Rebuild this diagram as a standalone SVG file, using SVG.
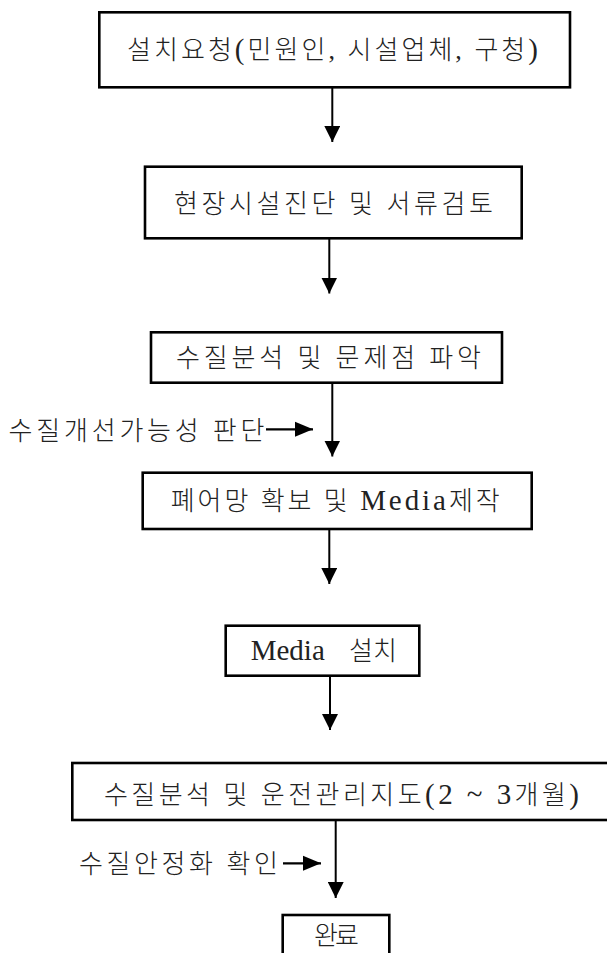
<svg xmlns="http://www.w3.org/2000/svg" width="607" height="953" viewBox="0 0 607 953">
<style>
.box{fill:#fff;stroke:#000;stroke-width:2.6}
.t{font-family:"Liberation Serif","Noto Sans CJK KR",serif;font-size:26px;font-weight:300;fill:#222}
.lat{font-size:29px}
.c{stroke:#000;stroke-width:2;fill:none}
.s{stroke:#000;stroke-width:2.3;fill:none}
</style>
<defs>
<marker id="ah" markerUnits="userSpaceOnUse" markerWidth="16" markerHeight="16" refX="16" refY="8" orient="auto">
<path d="M0,0 L16,8 L0,16 z" fill="#000"/>
</marker>
<marker id="sh" markerUnits="userSpaceOnUse" markerWidth="18" markerHeight="16" refX="18" refY="8" orient="auto">
<path d="M0,0.5 L18,8 L0,15.5 z" fill="#000"/>
</marker>
</defs>
<rect width="607" height="953" fill="#fff"/>
<g id="connectors">
<line class="c" x1="332.3" y1="87" x2="332.3" y2="142" marker-end="url(#ah)"/>
<line class="c" x1="329.3" y1="238" x2="329.3" y2="293.5" marker-end="url(#ah)"/>
<line class="c" x1="332.3" y1="382.5" x2="332.3" y2="456.5" marker-end="url(#ah)"/>
<line class="c" x1="329.3" y1="529" x2="329.3" y2="584" marker-end="url(#ah)"/>
<line class="c" x1="330" y1="675.5" x2="330" y2="730" marker-end="url(#ah)"/>
<line class="c" x1="335.7" y1="820" x2="335.7" y2="898" marker-end="url(#ah)"/>
<line class="s" x1="266" y1="429.3" x2="313" y2="429.3" marker-end="url(#sh)"/>
<line class="s" x1="283" y1="863.3" x2="321" y2="863.3" marker-end="url(#sh)"/>
</g>
<g id="n1"><rect class="box" x="99.3" y="12.3" width="470.7" height="75"/><text class="t" x="127" y="58.5" textLength="411" lengthAdjust="spacing">설치요청<tspan class="lat">(</tspan>민원인, 시설업체, 구청<tspan class="lat">)</tspan></text></g>
<g id="n2"><rect class="box" x="145" y="166.7" width="376.7" height="71.6"/><text class="t" x="174" y="213" textLength="319" lengthAdjust="spacing">현장시설진단 및 서류검토</text></g>
<g id="n3"><rect class="box" x="151" y="332.3" width="351" height="50.4"/><text class="t" x="176" y="367" textLength="305" lengthAdjust="spacing">수질분석 및 문제점 파악</text></g>
<g id="l1"><text class="t" x="8.5" y="440" textLength="256" lengthAdjust="spacing">수질개선가능성 판단</text></g>
<g id="n4"><rect class="box" x="142.7" y="472.7" width="389" height="56.3"/><text class="t" x="170.7" y="509.5" textLength="329" lengthAdjust="spacing">폐어망 확보 및 <tspan class="lat">Media</tspan>제작</text></g>
<g id="n5"><rect class="box" x="225.7" y="625.7" width="193.6" height="50"/><text class="t" y="660"><tspan class="lat" x="250.7">Media</tspan><tspan x="349">설치</tspan></text></g>
<g id="n6"><rect class="box" x="72.3" y="763" width="540" height="57"/><text class="t" x="104" y="803.5" textLength="475" lengthAdjust="spacing">수질분석 및 운전관리지도<tspan class="lat">(2 ~ 3</tspan>개월<tspan class="lat">)</tspan></text></g>
<g id="l2"><text class="t" x="79" y="872.5" textLength="199" lengthAdjust="spacing">수질안정화 확인</text></g>
<g id="n7"><rect class="box" x="282.7" y="915" width="106.6" height="50"/><text class="t" x="314" y="944.5" textLength="45" lengthAdjust="spacing">완료</text></g>
</svg>
